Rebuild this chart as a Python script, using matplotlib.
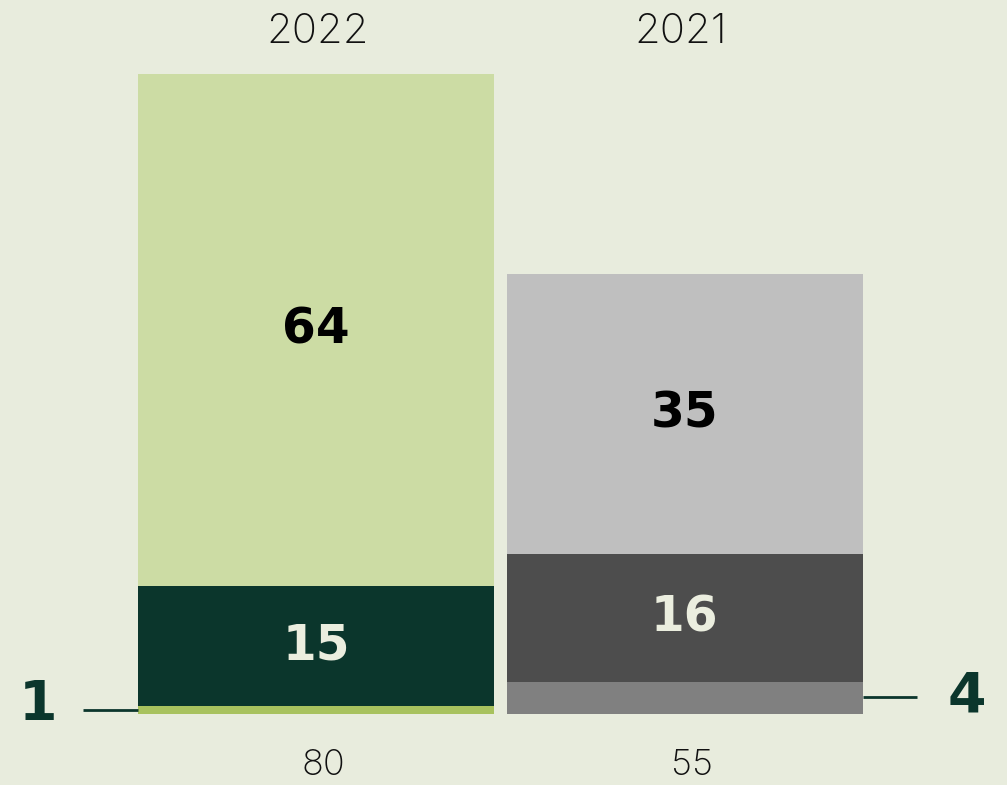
import matplotlib
matplotlib.use("Agg")
import matplotlib.pyplot as plt

years = ["2022", "2021"]
totals = ["80", "55"]
bottom_vals = [1, 4]
mid_vals = [15, 16]
top_vals = [64, 35]

bg = "#E8ECDD"
bottom_colors = ["#A8C25E", "#808080"]
mid_colors = ["#0B362C", "#4D4D4D"]
top_colors = ["#CCDCA4", "#BFBFBF"]

fig = plt.figure(figsize=(10.07, 7.85), dpi=100, facecolor=bg)
ax = fig.add_axes([0, 0, 1, 1])
ax.set_facecolor(bg)
ax.set_xlim(-0.856, 1.873)
ax.set_ylim(-8.875, 89.25)
ax.axis("off")

x = [0, 1]
w = 0.965
ax.bar(x, bottom_vals, width=w, color=bottom_colors)
ax.bar(x, mid_vals, width=w, bottom=bottom_vals, color=mid_colors)
mid_bottoms = [a + b for a, b in zip(bottom_vals, mid_vals)]
ax.bar(x, top_vals, width=w, bottom=mid_bottoms, color=top_colors)

boldfont = dict(family=["DejaVu Sans"], weight="bold")
lightfont = dict(family=["Inter", "DejaVu Sans"], weight="light")

year_dx = [0.005, -0.01]
for i in range(2):
    ax.text(x[i], mid_bottoms[i] + top_vals[i] / 2, str(top_vals[i]),
            ha="center", va="center", fontsize=35, color="#000000", **boldfont)
    ax.text(x[i], bottom_vals[i] + mid_vals[i] / 2, str(mid_vals[i]),
            ha="center", va="center", fontsize=35, color="#EBEEDF", **boldfont)
    ax.text(x[i] + year_dx[i], 85.25, years[i], ha="center", va="center",
            fontsize=30, color="#111111", **lightfont)
    ax.text(x[i] + 0.02, -6.4, totals[i], ha="center", va="center",
            fontsize=26, color="#111111", **lightfont)

left_edge = x[0] - w / 2
right_edge = x[1] + w / 2
ax.plot([left_edge - 0.149, left_edge], [bottom_vals[0] * 0.56, bottom_vals[0] * 0.56],
        color="#0B362C", lw=2, solid_capstyle="butt")
ax.text(-0.753, 1.1, str(bottom_vals[0]), ha="center", va="center",
        fontsize=40, color="#0B362C", **boldfont)
ax.plot([right_edge, right_edge + 0.146], [bottom_vals[1] * 0.52, bottom_vals[1] * 0.52],
        color="#0B362C", lw=2, solid_capstyle="butt")
ax.text(1.764, 2.2, str(bottom_vals[1]), ha="center", va="center",
        fontsize=40, color="#0B362C", **boldfont)

fig.savefig("out.png", dpi=100, facecolor=bg)
